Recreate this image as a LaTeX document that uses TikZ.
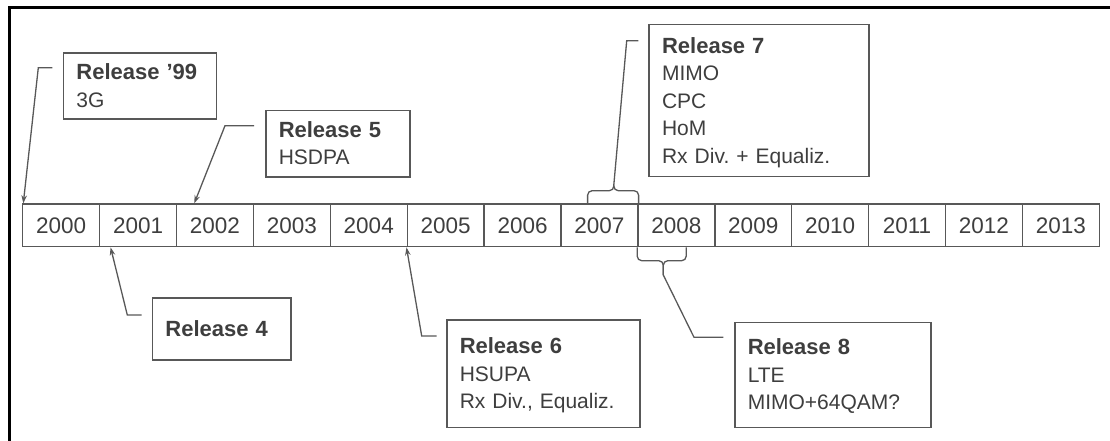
\documentclass[tikz,border=0pt]{standalone}
\usepackage{fontspec}
\setmainfont{Liberation Sans}
\usetikzlibrary{arrows.meta,calc}
\definecolor{linegray}{RGB}{88,88,88}
\definecolor{inkgray}{RGB}{62,62,62}
\frenchspacing
% first line of a release box: bold, fixed height, no depth
\newcommand\relhead[1]{\raisebox{0pt}[15pt][0pt]{\fontsize{22}{27.5}\selectfont\bfseries #1}}
% last line of a release box: no depth, so every box centres alike
\newcommand\rellast[1]{\raisebox{0pt}[15pt][0pt]{#1}}
\begin{document}
\begin{tikzpicture}[x=1pt,y=-1pt,
  yearcell/.style={draw=linegray,line width=1.4pt,minimum width=76.9pt,
    minimum height=42.7pt,inner sep=0pt,text=inkgray,
    font=\fontsize{22.5}{25}\selectfont},
  relbox/.style={draw=linegray,line width=1.5pt,anchor=north west,
    inner xsep=13pt,inner ysep=0pt,
    align=left,text=inkgray,font=\fontsize{21}{27.5}\selectfont},
  callout/.style={draw=linegray,line width=1.3pt,
    -{Stealth[length=8pt,width=5.5pt]}},
  leader/.style={draw=linegray,line width=1.3pt},
  bracket/.style={draw=linegray,line width=1.3pt,rounded corners=4.5pt}
]
\useasboundingbox (0,0) rectangle (1110,441);

% frame along the top and left edges
\draw[line width=3pt,black] (9.5,441) -- (9.5,7.5) -- (1110,7.5);

% the years
\foreach \yr [count=\i from 0] in {2000,...,2013}
  \node[yearcell] (y\yr) at ({61.15+76.9*\i},225.35) {\yr};

% release boxes
\node[relbox,text width=127pt,minimum height=66pt] (r99) at (62.7,52.3)
  {\relhead{Release '99}\\\rellast{3G}};
\node[relbox,text width=118pt,minimum height=66pt] (r5) at (265,110)
  {\relhead{Release 5}\\\rellast{HSDPA}};
\node[relbox,text width=112.3pt,minimum height=62pt] (r4) at (151.7,297.3)
  {\relhead{Release 4}};
\node[relbox,text width=167.3pt,minimum height=107.4pt] (r6) at (446,319.3)
  {\relhead{Release 6}\\HSUPA\\\rellast{Rx Div., Equaliz.}};
\node[relbox,text width=194pt,minimum height=151.7pt] (r7) at (648.3,24)
  {\relhead{Release 7}\\MIMO\\CPC\\HoM\\\rellast{Rx Div. + Equaliz.}};
\node[relbox,text width=170pt,minimum height=105pt] (r8) at (734,321.7)
  {\relhead{Release 8}\\LTE\\\rellast{MIMO+64QAM?}};

% callout arrows
\coordinate (s99) at ($(r99.north west)+(-10.4,15.4)$);
\draw[callout] (s99) -- ++(-14,0) -- ($(y2000.north west)+(1.3,0)$);

\coordinate (s5) at ($(r5.north west)+(-11,15.7)$);
\draw[callout] (s5) -- ++(-29,0) -- ($(y2002.north west)+(18.5,0)$);

\coordinate (s4) at ($(r4.north west)+(-10,17.7)$);
\draw[callout] (s4) -- ++(-14.4,0) -- ($(y2001.south west)+(11.7,0)$);

\coordinate (s6) at ($(r6.north west)+(-9.3,16.7)$);
\draw[callout] (s6) -- ++(-15,0) -- (y2005.south west);

% bracket above 2007 and its leader to Release 7
\coordinate (b7) at (613.8,185);
\draw[bracket] ($(y2007.north east)+(-51,0)$) |- (613.8,190.7) -- (b7);
\draw[bracket] (y2007.north east) |- (613.8,190.7) -- (b7);
\coordinate (s7) at ($(r7.north west)+(-10,16.7)$);
\draw[leader] (b7) -- (626.7,40.7) -- (s7);

% bracket below 2008 and its leader to Release 8
\coordinate (b8) at (663.3,275);
\draw[bracket] (y2008.south west) |- (663.3,260.7) -- (b8);
\draw[bracket] ($(y2008.south west)+(49,0)$) |- (663.3,260.7) -- (b8);
\coordinate (s8) at ($(r8.north west)+(-10.7,15.6)$);
\draw[leader] (b8) -- (694,337.3) -- (s8);
\end{tikzpicture}
\end{document}
